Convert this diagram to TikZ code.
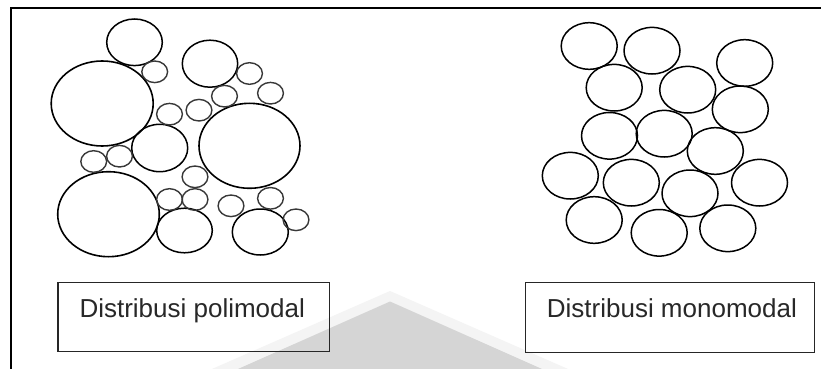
\documentclass[tikz,border=0pt]{standalone}
\usepackage{fontspec}
\setmainfont{Liberation Sans}
\definecolor{wmark}{RGB}{213,213,213}
\definecolor{wmhalo}{RGB}{244,244,244}
\definecolor{txt}{RGB}{40,40,40}
\tikzset{
  big/.style={line width=1.6pt, draw=black},
  mid/.style={line width=1.5pt, draw=black},
  sml/.style={line width=1.4pt, draw=black!78},
  frame/.style={line width=2pt, draw=black},
  labelbox/.style={draw=black!85, line width=1.3pt, rectangle, inner sep=0pt, anchor=north west},
  labeltext/.style={anchor=base west, inner sep=0pt, text=txt, font=\fontsize{26}{30}\selectfont}
}
\begin{document}
\begin{tikzpicture}[x=1pt,y=-1pt]
\useasboundingbox (0,0) rectangle (821,369);
\fill[white] (0,0) rectangle (821,369);
% watermark
\fill[wmhalo] (390,291) -- (212,369) -- (568,369) -- cycle;
\fill[wmark] (390,301.5) -- (238,369) -- (542,369) -- cycle;
% frame
\draw[frame] (11.3,369) -- (11.3,7.7) -- (821,7.7);
% ---- polimodal ----
\draw[big] (102.2,103.5) ellipse [x radius=51,y radius=42.5];
\draw[big] (249.5,145.8) ellipse [x radius=50.5,y radius=42.5];
\draw[big] (108.5,214.2) ellipse [x radius=50.8,y radius=42.5];
\draw[mid] (134.5,42.3) ellipse [x radius=27.8,y radius=23.3];
\draw[mid] (210,63.7) ellipse [x radius=27.7,y radius=23.5];
\draw[mid] (159.7,148) ellipse [x radius=28,y radius=23.7];
\draw[mid] (184.5,230.5) ellipse [x radius=27.8,y radius=22.3];
\draw[mid] (260.3,232) ellipse [x radius=28,y radius=23];
\foreach \p in {(154.7,71.8),(249.5,73.5),(224.5,96.2),(270.5,93.2),(169.5,114.2),(199,110.2),
  (93.7,161.5),(119.5,156.2),(195,176.8),(169.5,199.5),(195,199.5),(231,205.8),(270.5,198.3),(296,219.8)}
  \draw[sml] \p ellipse [x radius=12.9,y radius=10.8];
% ---- monomodal ----
\foreach \p in {(589.2,46),(652,50.7),(744.7,63),(614.2,87.7),(687.7,89.7),(740.3,109.3),
  (609.5,135.8),(664.2,133.7),(715.3,151),(570.3,175.7),(631.3,182.7),(690,193.3),(759.5,182.7),
  (594.2,220),(659.2,232.8),(727.8,228.3)}
  \draw[mid] \p ellipse [x radius=28,y radius=23.3];
% ---- labels ----
\node[labelbox, minimum width=271.7pt, minimum height=69pt] (boxpoli) at (57.3,282) {};
\node[labeltext] (txtpoli) at (79.3,317) {Distribusi polimodal};
\node[labelbox, minimum width=289pt, minimum height=69.5pt] (boxmono) at (525,282) {};
\node[labeltext] (txtmono) at (546.7,317) {Distribusi monomodal};
\end{tikzpicture}
\end{document}
